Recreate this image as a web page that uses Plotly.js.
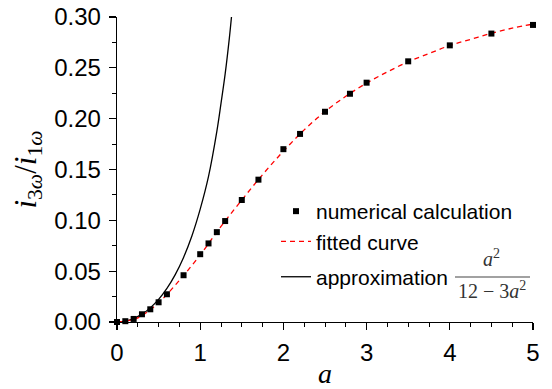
<!DOCTYPE html>
<html>
<head>
<meta charset="utf-8">
<script src="https://cdn.plot.ly/plotly-3.0.1.min.js"></script>
<style>html,body{margin:0;padding:0;background:#fff;}#chart{width:552px;height:389px;}</style>
</head>
<body>
<div id="chart"></div>
<script>
// numerical calculation points
var numA = [0, 0.1, 0.2, 0.3, 0.4, 0.5, 0.6, 0.8, 1.0, 1.1, 1.2, 1.3, 1.5, 1.7, 2.0, 2.2, 2.5, 2.8, 3.0, 3.5, 4.0, 4.5, 5.0];
var numY = [0, 0.0008, 0.0030, 0.0076, 0.0125, 0.0194, 0.0273, 0.046, 0.0667, 0.0773, 0.0884, 0.0993, 0.120, 0.140, 0.170, 0.185, 0.2068, 0.2245, 0.2354, 0.2564, 0.2721, 0.2837, 0.2922];
// fitted curve
var fitA = [0, 0.1, 0.25, 0.5, 0.75, 1.0, 1.25, 1.5, 1.75, 2.0, 2.25, 2.5, 2.75, 3.0, 3.25, 3.5, 3.75, 4.0, 4.25, 4.5, 4.75, 5.0];
var fitY = [0, 0.0008, 0.004, 0.019, 0.041, 0.066, 0.094, 0.120, 0.145, 0.168, 0.189, 0.207, 0.222, 0.235, 0.246, 0.256, 0.264, 0.272, 0.278, 0.284, 0.289, 0.293];
// approximation a^2/(12-3a^2)
var apprA = [0, 0.1, 0.2, 0.3, 0.4, 0.5, 0.6, 0.7, 0.8, 0.9, 1.0, 1.1, 1.2, 1.25, 1.3, 1.35, 1.376];
var apprY = [0, 0.0008, 0.0034, 0.0077, 0.0139, 0.0222, 0.0330, 0.0466, 0.0635, 0.0846, 0.111, 0.1432, 0.1875, 0.215, 0.244, 0.279, 0.300];
// labels
var legendNames = ["numerical calculation", "fitted curve", "approximation"];

var font = "Liberation Sans, Arial, sans-serif";
var serif = "Liberation Serif, DejaVu Serif, serif";

var traces = [
  {x: apprA, y: apprY, name: legendNames[2], type: "scatter", mode: "lines",
   line: {color: "#000", width: 1.3, shape: "spline"}, legendgroup: "b", legendrank: 3},
  {x: fitA, y: fitY, name: legendNames[1], type: "scatter", mode: "lines",
   line: {color: "#ff0000", width: 1.3, dash: "5px,4px", shape: "spline"}, legendgroup: "a", legendrank: 2},
  {x: numA, y: numY, name: legendNames[0], type: "scatter", mode: "markers",
   marker: {symbol: "square", size: 6, color: "#000"}, cliponaxis: false, legendgroup: "a", legendrank: 1}
];

function px(x){return (x-117)/416;}
function py(y){return (322-y)/305;}

var layout = {
  width: 552, height: 389,
  margin: {l: 117, r: 19, t: 17, b: 67, pad: 0},
  paper_bgcolor: "#fff", plot_bgcolor: "#fff",
  font: {family: font, color: "#000"},
  showlegend: true,
  legend: {x: px(276), y: py(191), xanchor: "left", yanchor: "top",
    bgcolor: "rgba(0,0,0,0)", font: {size: 21, family: font, color: "#000"},
    traceorder: "grouped", tracegroupgap: 5, itemclick: false},
  xaxis: {range: [0, 5], showgrid: false, zeroline: false, showline: true, linecolor: "#000", linewidth: 1.3,
    ticks: "outside", ticklen: 7, tickwidth: 1.3, tickcolor: "#000", dtick: 1, tick0: 0,
    tickfont: {size: 24, family: font}, ticklabelstandoff: 2,
    minor: {ticks: "outside", ticklen: 4, tickwidth: 1, tickcolor: "#000", dtick: 0.25, showgrid: false},
    title: {text: "<i>a</i>", font: {size: 28, family: serif}, standoff: 15}},
  yaxis: {range: [0, 0.30], showgrid: false, zeroline: false, showline: true, linecolor: "#000", linewidth: 1.3,
    ticks: "outside", ticklen: 7, tickwidth: 1.3, tickcolor: "#000", dtick: 0.05, tick0: 0, tickformat: ".2f",
    tickfont: {size: 24, family: font}, ticklabelstandoff: 3,
    minor: {ticks: "outside", ticklen: 4, tickwidth: 1, tickcolor: "#000", dtick: 0.025, showgrid: false},
    title: {text: "<i>i</i><sub>3<i>ω</i></sub>/<i>i</i><sub>1<i>ω</i></sub>", font: {size: 31, family: serif}, standoff: 8}},
  annotations: [
    {xref: "paper", yref: "paper", x: px(491), y: py(258), text: "<i>a</i><sup>2</sup>", showarrow: false,
     font: {size: 20, family: serif, color: "#333"}, xanchor: "center", yanchor: "middle"},
    {xref: "paper", yref: "paper", x: px(492), y: py(290), text: "12 − 3<i>a</i><sup>2</sup>", showarrow: false,
     font: {size: 20, family: serif, color: "#333"}, xanchor: "center", yanchor: "middle"}
  ],
  shapes: [
    {type: "line", xref: "paper", yref: "paper", x0: px(455), x1: px(530), y0: py(277), y1: py(277),
     line: {color: "#444", width: 1.2}}
  ]
};

Plotly.newPlot("chart", traces, layout, {staticPlot: true, displayModeBar: false});
</script>
</body>
</html>
